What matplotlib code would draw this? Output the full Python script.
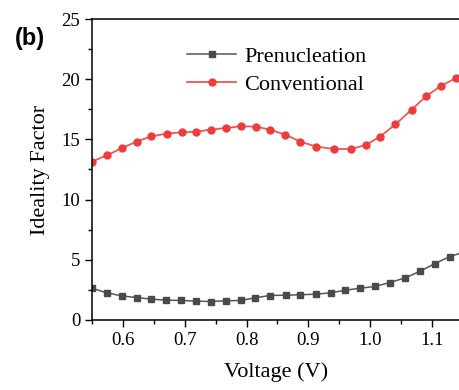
import matplotlib
matplotlib.use("Agg")
from matplotlib import pyplot as plt
from matplotlib.ticker import MultipleLocator

# voltage (V) and ideality factor
v_conv = [0.550, 0.574, 0.599, 0.622, 0.646, 0.671, 0.695, 0.719, 0.742, 0.767,
          0.791, 0.815, 0.838, 0.863, 0.887, 0.913, 0.942, 0.969, 0.993, 1.016,
          1.041, 1.067, 1.091, 1.115, 1.139]
n_conv = [13.15, 13.68, 14.29, 14.81, 15.26, 15.48, 15.59, 15.64, 15.81, 15.95,
          16.09, 16.06, 15.81, 15.39, 14.81, 14.40, 14.20, 14.20, 14.53, 15.23,
          16.25, 17.47, 18.60, 19.46, 20.10]

v_pre = [0.550, 0.574, 0.598, 0.622, 0.646, 0.670, 0.694, 0.718, 0.742, 0.766,
         0.791, 0.814, 0.838, 0.864, 0.887, 0.912, 0.936, 0.960, 0.984, 1.008,
         1.032, 1.057, 1.081, 1.105, 1.129, 1.153]
n_pre = [2.62, 2.24, 1.99, 1.85, 1.72, 1.63, 1.61, 1.55, 1.52, 1.58,
         1.61, 1.83, 2.02, 2.05, 2.08, 2.13, 2.24, 2.46, 2.63, 2.77,
         3.10, 3.49, 4.04, 4.68, 5.26, 5.65]

plt.rcParams['font.family'] = ['Liberation Serif', 'DejaVu Serif']

fig = plt.figure(figsize=(4.6, 3.9), dpi=100)
ax = fig.add_axes([0.2, 0.18, 0.8, 0.771])

ax.plot(v_pre, n_pre, '-s', color='#555555', mfc='#4a4a4a', mec='#4a4a4a',
        ms=4, lw=1.1, label='Prenucleation')
ax.plot(v_conv, n_conv, '-o', color='#f05555', mfc='#ee3b3b', mec='#ee3b3b',
        ms=5, lw=1.3, label='Conventional')

ax.set_xlim(0.55, 1.1454)
ax.set_ylim(0, 25)
ax.xaxis.set_major_locator(MultipleLocator(0.1))
ax.xaxis.set_minor_locator(MultipleLocator(0.05))
ax.yaxis.set_major_locator(MultipleLocator(5))
ax.yaxis.set_minor_locator(MultipleLocator(2.5))
ax.tick_params(which='major', direction='out', length=5, width=1, labelsize=13.5)
ax.tick_params(which='minor', direction='out', length=3, width=1)
ax.spines['right'].set_visible(False)
for s in ['left', 'bottom', 'top']:
    ax.spines[s].set_linewidth(1.1)

ax.set_xlabel('Voltage (V)', fontsize=16, labelpad=10)
ax.set_ylabel('Ideality Factor', fontsize=16, labelpad=8)

ax.legend(loc='upper left', bbox_to_anchor=(0.205, 0.975), frameon=False,
          fontsize=16, handlelength=2.2, handletextpad=0.35, labelspacing=0.32)

fig.text(0.033, 0.885, '(b)', fontsize=17, fontweight='bold',
         family=['Liberation Sans', 'DejaVu Sans'])

fig.savefig('out.png', dpi=100)
